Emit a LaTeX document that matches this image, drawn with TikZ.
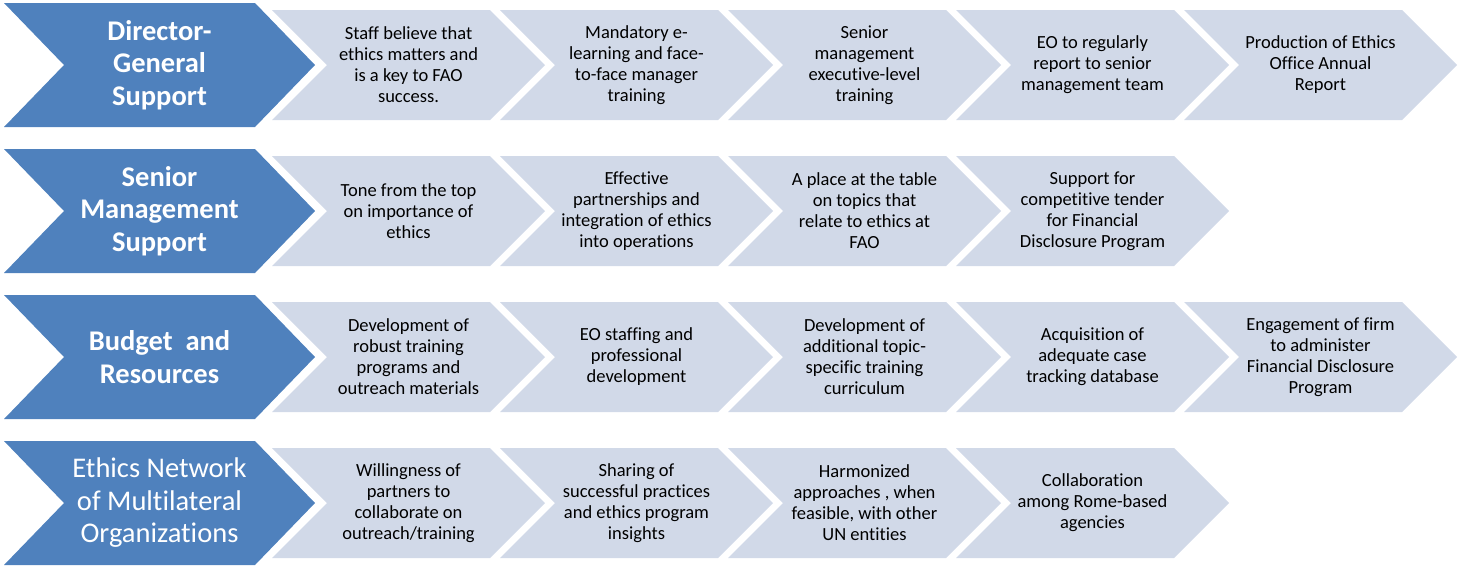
\documentclass[tikz,border=0pt]{standalone}
\usepackage{fontspec}
\setmainfont[Ligatures=NoCommon]{Carlito}
\definecolor{bluefill}{RGB}{79,129,189}
\definecolor{lightfill}{RGB}{209,217,232}
\tikzset{
  ltext/.style={align=center, font=\fontsize{18.5}{21}\selectfont, text=black, inner sep=0pt},
  btext/.style={align=center, font=\fontsize{28.5}{32.5}\selectfont\bfseries, text=white, inner sep=0pt},
  btextreg/.style={align=center, font=\fontsize{28.5}{32.5}\selectfont, text=white, inner sep=0pt},
}
\newcommand{\lchev}[4]{%
  \fill[lightfill] (#1,#2-55) -- (#1+218,#2-55) -- (#1+273,#2) -- (#1+218,#2+55) -- (#1,#2+55) -- (#1+55,#2) -- cycle;
  \node[ltext] (#3) at (#1+136.5,#2) {#4};
}
\newcommand{\bchev}[4]{%
  \fill[bluefill] (4,#1-62) -- (255,#1-62) -- (315,#1) -- (255,#1+62) -- (4,#1+62) -- (64,#1) -- cycle;
  \node[#3] (#2) at (159.5,#1) {#4};
}
\begin{document}
\begin{tikzpicture}[x=1pt,y=-1pt]
\useasboundingbox (0,0) rectangle (1460,566);
% Row 1
\bchev{65}{b1}{btext}{Director-\\General\\Support}
\lchev{272}{65}{r1a}{Staff believe that\\ethics matters and\\is a key to FAO\\success.}
\lchev{500}{65}{r1b}{Mandatory e-\\learning and face-\\to-face manager\\training}
\lchev{728}{65}{r1c}{Senior\\management\\executive-level\\training}
\lchev{956}{65}{r1d}{EO to regularly\\report to senior\\management team}
\lchev{1184}{65}{r1e}{Production of Ethics\\Office Annual\\Report}
% Row 2
\bchev{211}{b2}{btext}{Senior\\Management\\Support}
\lchev{272}{211}{r2a}{Tone from the top\\on importance of\\ethics}
\lchev{500}{211}{r2b}{Effective\\partnerships and\\integration of ethics\\into operations}
\lchev{728}{211}{r2c}{A place at the table\\on topics that\\relate to ethics at\\FAO}
\lchev{956}{211}{r2d}{Support for\\competitive tender\\for Financial\\Disclosure Program}
% Row 3
\bchev{357}{b3}{btext}{Budget\ \ and\\Resources}
\lchev{272}{357}{r3a}{Development of\\robust training\\programs and\\outreach materials}
\lchev{500}{357}{r3b}{EO staffing and\\professional\\development}
\lchev{728}{357}{r3c}{Development of\\additional topic-\\specific training\\curriculum}
\lchev{956}{357}{r3d}{Acquisition of\\adequate case\\tracking database}
\lchev{1184}{357}{r3e}{Engagement of firm\\to administer\\Financial Disclosure\\Program}
% Row 4
\bchev{503}{b4}{btextreg}{Ethics Network\\of Multilateral\\Organizations}
\lchev{272}{503}{r4a}{Willingness of\\partners to\\collaborate on\\outreach/training}
\lchev{500}{503}{r4b}{Sharing of\\successful practices\\and ethics program\\insights}
\lchev{728}{503}{r4c}{Harmonized\\approaches , when\\feasible, with other\\UN entities}
\lchev{956}{503}{r4d}{Collaboration\\among Rome-based\\agencies}
\end{tikzpicture}
\end{document}
